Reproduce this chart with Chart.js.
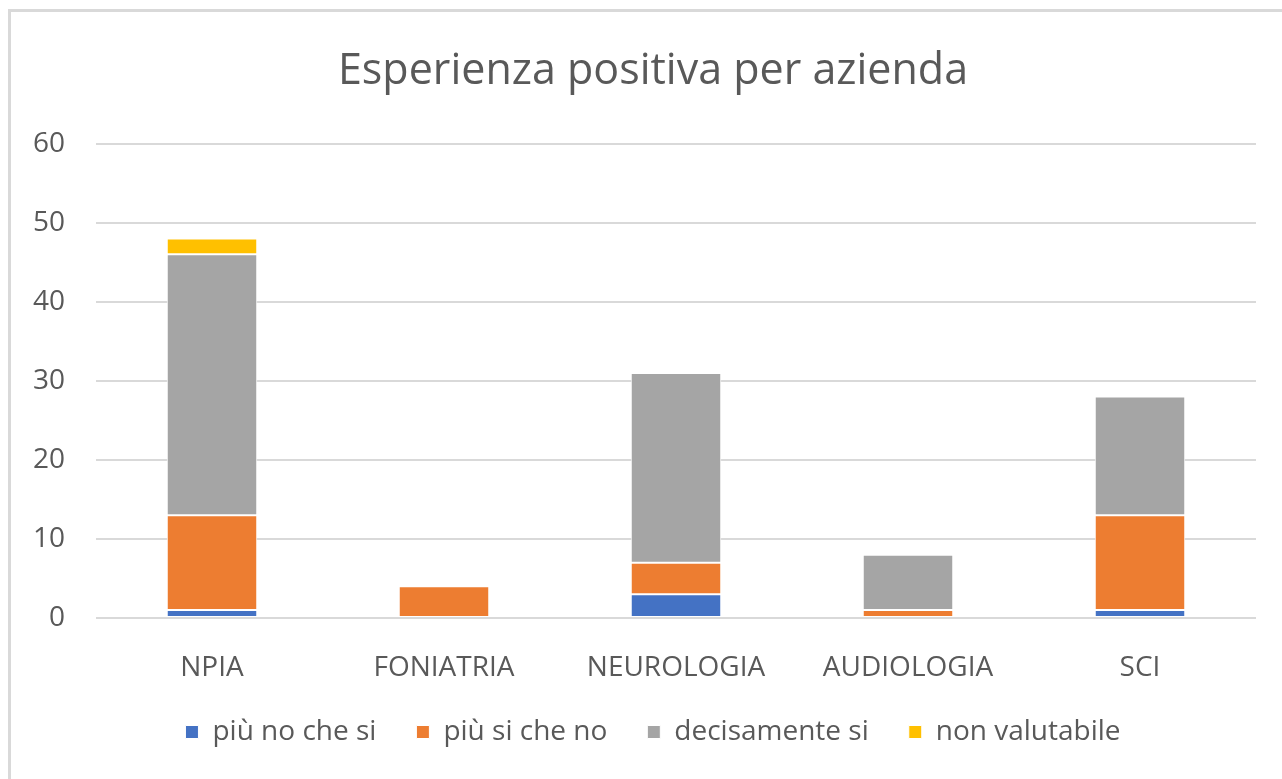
<!DOCTYPE html>
<html>
<head>
<meta charset="utf-8">
<script src="https://cdn.jsdelivr.net/npm/chart.js@4/dist/chart.umd.min.js"></script>
<style>
  html, body { margin: 0; padding: 0; background: #ffffff; }
  #frame { position: absolute; left: 8px; top: 9px; width: 1300px; height: 800px;
           border-top: 3px solid #d9d9d9; border-left: 3px solid #d9d9d9; box-sizing: border-box; }
  #wrap { position: absolute; left: 0; top: 0; width: 1282px; height: 779px; }
</style>
</head>
<body>
<div id="frame"></div>
<div id="wrap"><canvas id="c" width="1282" height="779"></canvas></div>
<script>
const categories = ["NPIA", "FONIATRIA", "NEUROLOGIA", "AUDIOLOGIA", "SCI"];
const piuNoCheSi = [1, 0, 3, 0, 1];
const piuSiCheNo = [12, 4, 4, 1, 12];
const decisamenteSi = [33, 0, 24, 7, 15];
const nonValutabile = [2, 0, 0, 0, 0];
const seriesNames = ["più no che si", "più si che no", "decisamente si", "non valutabile"];
const yTicks = [0, 10, 20, 30, 40, 50, 60];

const font = "'Open Sans', 'Noto Sans', sans-serif";
const txt = "#595959";
const colors = ["#4472C4", "#ED7D31", "#A5A5A5", "#FFC000"];
const values = [piuNoCheSi, piuSiCheNo, decisamenteSi, nonValutabile];

new Chart(document.getElementById("c"), {
  type: "bar",
  data: {
    labels: categories,
    datasets: seriesNames.map((n, i) => ({
      label: n,
      data: values[i],
      backgroundColor: colors[i],
      borderColor: "#ffffff",
      borderWidth: 1,
      borderSkipped: false,
      categoryPercentage: 1.0,
      barPercentage: 0.39
    }))
  },
  options: {
    responsive: false,
    animation: false,
    layout: { padding: { left: 50, right: 26, top: 0, bottom: 23 } },
    plugins: {
      title: {
        display: true,
        text: "Esperienza positiva per azienda",
        color: txt,
        font: { family: font, size: 43, weight: "normal" },
        padding: { top: 46, bottom: 46 }
      },
      legend: {
        position: "bottom",
        labels: {
          color: txt,
          font: { family: font, size: 28 },
          boxWidth: 13,
          boxHeight: 13,
          padding: 40
        }
      },
      tooltip: { enabled: false }
    },
    scales: {
      x: {
        stacked: true,
        afterFit: (s) => { s.height = 60; },
        grid: { display: false },
        border: { display: false },
        ticks: { color: txt, font: { family: font, size: 28 }, padding: 25 }
      },
      y: {
        stacked: true,
        min: 0,
        max: 60,
        afterFit: (s) => { s.width = 46; },
        afterBuildTicks: (s) => { s.ticks = yTicks.map(v => ({ value: v })); },
        grid: { color: "#d9d9d9", lineWidth: 2, drawTicks: false },
        border: { display: false },
        ticks: { color: txt, font: { family: font, size: 28 }, mirror: true, crossAlign: "far", padding: -63 }
      }
    }
  }
});
</script>
</body>
</html>
